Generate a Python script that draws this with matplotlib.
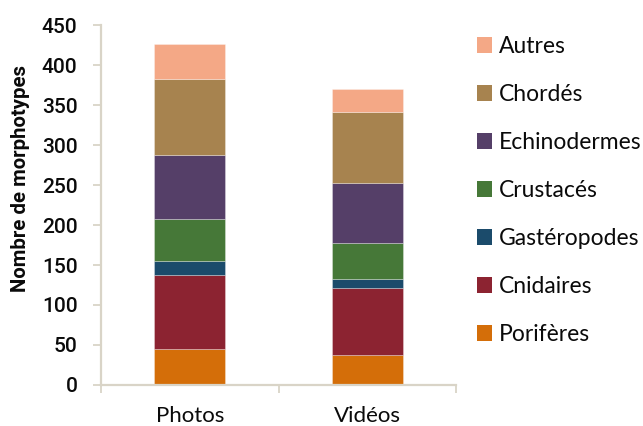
import matplotlib
matplotlib.use("Agg")
import matplotlib.pyplot as plt
from matplotlib.patches import Patch

# Number of morphotypes per taxonomic group, by survey method
categories = ["Photos", "Vidéos"]
groups = ["Porifères", "Cnidaires", "Gastéropodes", "Crustacés",
          "Echinodermes", "Chordés", "Autres"]
porifères = [45, 38]
cnidaires = [92, 83]
gastéropodes = [18, 12]
crustacés = [52, 45]
echinodermes = [80, 75]
chordés = [95, 88]
autres = [44, 29]
yticks = [0, 50, 100, 150, 200, 250, 300, 350, 400, 450]

series = [porifères, cnidaires, gastéropodes, crustacés,
          echinodermes, chordés, autres]
colors = ["#D46E09", "#8C2331", "#1B4B6B", "#467838",
          "#553F68", "#A7834F", "#F4A886"]

axis_color = "#D9D4C7"
text_color = "#0A0A0A"

W, H = 643, 426
fig = plt.figure(figsize=(W / 100, H / 100), dpi=100)
ax = fig.add_axes([101 / W, 1 - 385 / H, 355 / W, 360 / H])

x = [0.5, 1.5]
bottom = [0, 0]
for vals, col in zip(series, colors):
    ax.bar(x, vals, width=0.4, bottom=bottom, color=col,
           edgecolor=(1, 1, 1, 0.35), linewidth=0.6)
    bottom = [b + v for b, v in zip(bottom, vals)]

ax.set_xlim(0, 2)
ax.set_ylim(0, 450)
ax.set_yticks(yticks)
ax.set_yticklabels([str(t) for t in yticks], fontsize=15,
                   fontfamily="Roboto", fontweight="medium", color=text_color)

# boundary ticks between categories; category names placed under the bars
ax.set_xticks([0, 1, 2])
ax.set_xticklabels([])
ax.tick_params(axis="x", length=5.5, width=1.3, color=axis_color)
ax.tick_params(axis="y", length=5.5, width=1.3, color=axis_color, pad=11.5)
for xi, name in zip(x, categories):
    ax.text(xi, -(422 - 385) / 360, name, transform=ax.get_xaxis_transform(),
            ha="center", va="baseline", fontsize=16, fontfamily="Lato",
            color=text_color)

for side in ("top", "right"):
    ax.spines[side].set_visible(False)
for side in ("left", "bottom"):
    ax.spines[side].set_color(axis_color)
    ax.spines[side].set_linewidth(1.6)

fig.text(20.5 / W, 1 - 179 / H, "Nombre de morphotypes", rotation=90,
         ha="center", va="center", fontsize=14.7, fontweight="bold",
         fontfamily="Roboto", color=text_color)

handles = [Patch(facecolor=c, edgecolor="none") for c in colors][::-1]
labels = groups[::-1]
leg = fig.legend(handles, labels, loc="upper left",
                 bbox_to_anchor=(477 / W, 1 - 36 / H),
                 frameon=False, prop={"family": "Lato", "size": 16.5},
                 labelspacing=1.18, handlelength=0.66, handleheight=0.66,
                 handletextpad=0.28, borderaxespad=0, borderpad=0)
for t in leg.get_texts():
    t.set_color(text_color)

fig.savefig("out.png", dpi=100)
